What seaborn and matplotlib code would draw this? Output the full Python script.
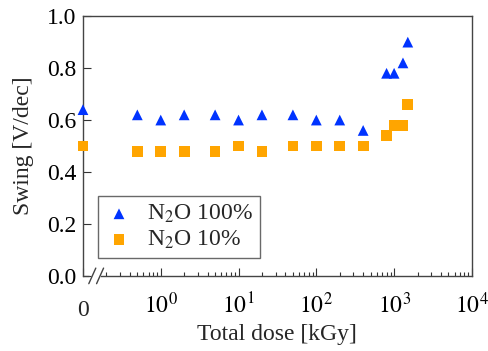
import numpy as np
import pandas as pd
import matplotlib
matplotlib.use("Agg")
import matplotlib.pyplot as plt
import seaborn as sns

# data
dose = [0, 0.5, 1, 2, 5, 10, 20, 50, 100, 200, 400, 800, 1000, 1300, 1500]
swing_100 = [0.64, 0.62, 0.60, 0.62, 0.62, 0.60, 0.62, 0.62, 0.60, 0.60, 0.56, 0.78, 0.78, 0.82, 0.90]
swing_10 = [0.50, 0.48, 0.48, 0.48, 0.48, 0.50, 0.48, 0.50, 0.50, 0.50, 0.50, 0.54, 0.58, 0.58, 0.66]
labels = ["N$_2$O 100%", "N$_2$O 10%"]
colors = ["#0033ff", "#ffa500"]
marks = ["^", "s"]

zero_pos = 0.1  # where dose 0 sits on the broken log axis

df = pd.DataFrame({
    "dose": dose * 2,
    "swing": swing_100 + swing_10,
    "gas": [labels[0]] * len(dose) + [labels[1]] * len(dose),
})
df["x"] = df["dose"].where(df["dose"] > 0, zero_pos)

sns.set_style("ticks")
plt.rcParams["font.family"] = ["Liberation Serif", "DejaVu Serif"]
plt.rcParams["mathtext.fontset"] = "stix"

fig = plt.figure(figsize=(4.88, 3.51), dpi=100)
ax = fig.add_axes([0.170, 0.214, 0.797, 0.740])

for lab, col, m, s in zip(labels, colors, marks, [60, 60]):
    sub = df[df["gas"] == lab]
    sns.scatterplot(data=sub, x="x", y="swing", color=col, marker=m, s=s,
                    edgecolor="none", label=lab, clip_on=False, ax=ax, zorder=3)

ax.set_xscale("log")
ax.set_xlim(zero_pos, 1e4)
ax.set_ylim(0, 1.0)

ax.set_xticks([zero_pos, 1, 10, 100, 1000, 10000])
ax.set_xticklabels(["", "$10^{0}$", "$10^{1}$", "$10^{2}$", "$10^{3}$", "$10^{4}$"])
ax.xaxis.set_minor_locator(matplotlib.ticker.LogLocator(base=10, subs=np.arange(2, 10), numticks=20))
ax.xaxis.set_minor_formatter(matplotlib.ticker.NullFormatter())
ax.set_yticks(np.arange(0, 1.01, 0.2))
ax.set_yticklabels([f"{v:.1f}" for v in np.arange(0, 1.01, 0.2)])

ax.tick_params(axis="both", which="major", direction="in", length=6, width=0.8,
               colors="#333333", labelcolor="black")
ax.tick_params(axis="y", which="major", labelsize=17, pad=5)
ax.tick_params(axis="x", which="major", labelsize=17, pad=12)
ax.tick_params(axis="x", which="minor", direction="in", length=3, width=0.8, colors="#333333")

trans = ax.get_xaxis_transform()
ax.text(zero_pos, -0.154, "0", transform=trans, ha="center", va="baseline", fontsize=17)

for sp in ax.spines.values():
    sp.set_color("#444444")
    sp.set_linewidth(1.0)

# broken bottom spine with "//" marks
ax.spines["bottom"].set_bounds(0.172, 1e4)
ax.plot([zero_pos, 0.118], [0, 0], color="#444444", lw=1.0, transform=trans, clip_on=False)
for xf in [0.024, 0.044]:
    ax.plot([xf - 0.009, xf + 0.009], [-0.03, 0.03], color="#444444", lw=1.0,
            transform=ax.transAxes, clip_on=False)

ax.set_xlabel("Total dose [kGy]", fontsize=17, labelpad=4)
ax.set_ylabel("Swing [V/dec]", fontsize=17, labelpad=9)

leg = ax.legend(loc="lower left", bbox_to_anchor=(0.038, 0.068), borderaxespad=0,
                fontsize=17, frameon=True, fancybox=False, handletextpad=0.6,
                borderpad=0.3, labelspacing=0.15, handlelength=1.2)
leg.get_frame().set_edgecolor("#444444")
leg.get_frame().set_linewidth(1.0)

fig.savefig("out.png", dpi=100)
